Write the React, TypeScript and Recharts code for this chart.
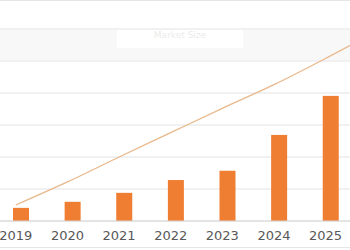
import React from 'react';
import {
    ComposedChart,
    Bar,
    Line,
    XAxis,
    YAxis,
    CartesianGrid,
} from 'recharts';

// years on the axis; 2026 only carries the trend line off the right edge
const years = ['2019', '2020', '2021', '2022', '2023', '2024', '2025', '2026'];
const shownYears = ['2019', '2020', '2021', '2022', '2023', '2024', '2025'];
const barValues = [0.41, 0.6, 0.88, 1.28, 1.57, 2.69, 3.91, null];
const trendValues = [0.5, 1.22, 2.0, 2.76, 3.52, 4.26, 5.08, 5.94];
const yTicks = [0, 1, 2, 3, 4, 5, 6];

const BAR_COLOR = '#ef7d32';
const LINE_COLOR = '#e9b88c';

const chartData = years.map((year, i) => ({
    year,
    value: barValues[i],
    trend: trendValues[i],
}));

// bars sit a little right of the category centre in the original
const ShiftedBar = (props: any) => {
    const { x, y, width, height } = props;
    if (!height) return null;
    return <rect x={x + 5} y={y} width={width} height={height} fill={BAR_COLOR} />;
};

export default function App() {
    return (
        <div
            style={{
                position: 'fixed',
                top: 0,
                left: 0,
                width: 350,
                height: 250,
                overflow: 'hidden',
                background: '#fff',
                fontFamily: 'DejaVu Sans',
            }}
        >
            {/* faint header strip of the cropped original */}
            <div style={{ position: 'absolute', top: 0, left: 0, width: 350, height: 1, background: '#e6e6e6' }} />
            <div style={{ position: 'absolute', top: 30, left: 0, width: 350, height: 30, background: '#f8f8f8' }} />
            <div
                style={{
                    position: 'absolute',
                    top: 30,
                    left: 117,
                    width: 126,
                    height: 18,
                    background: '#fff',
                    color: '#ececec',
                    fontSize: 9,
                    textAlign: 'center',
                    lineHeight: '10px',
                }}
            >
                Market Size
            </div>
            <div style={{ position: 'absolute', top: 247, left: 0, width: 350, height: 1, background: '#e6e6e6' }} />

            <div style={{ position: 'absolute', top: 0, left: -10 }}>
                <ComposedChart
                    width={413}
                    height={250}
                    data={chartData}
                    margin={{ top: 29, right: 0, left: 0, bottom: 0 }}
                    barCategoryGap={0}
                >
                    <CartesianGrid vertical={false} stroke="#e3e3e3" />
                    <XAxis
                        dataKey="year"
                        height={29}
                        axisLine={{ stroke: '#d6d6d6' }}
                        tickLine={false}
                        interval={0}
                        tickFormatter={(v: string) => (shownYears.includes(v) ? v : '')}
                        tick={{ fill: '#585858', fontSize: 13, fontFamily: 'DejaVu Sans' }}
                        dy={2}
                    />
                    <YAxis hide width={0} domain={[0, 6]} ticks={yTicks} />
                    <Bar
                        dataKey="value"
                        barSize={16}
                        fill={BAR_COLOR}
                        shape={ShiftedBar}
                        isAnimationActive={false}
                    />
                    <Line
                        dataKey="trend"
                        type="monotone"
                        stroke={LINE_COLOR}
                        strokeWidth={1.3}
                        dot={false}
                        isAnimationActive={false}
                    />
                </ComposedChart>
            </div>
        </div>
    );
}
